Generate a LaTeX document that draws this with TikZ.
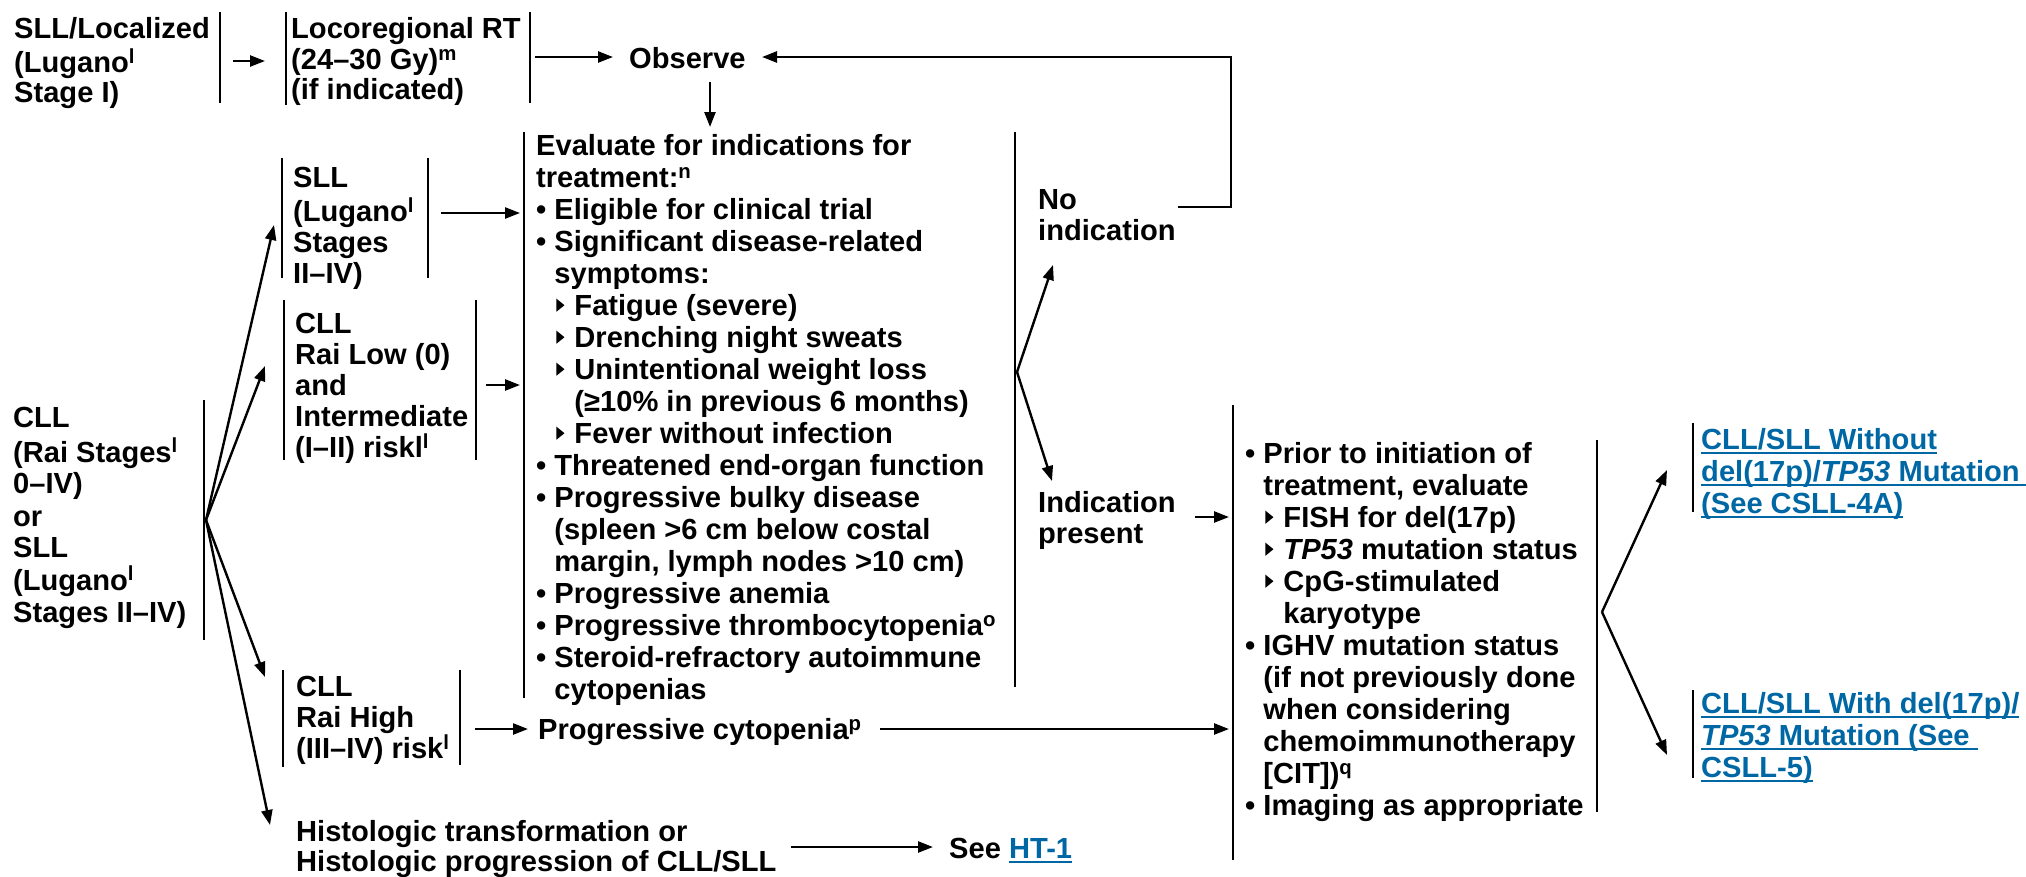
\documentclass[tikz,border=0pt]{standalone}
\usepackage{fontspec}
\setmainfont{Liberation Sans}
\usetikzlibrary{arrows.meta}
\definecolor{lnk}{HTML}{0067A5}
\newlength\ulwd
\newcommand\lk[1]{\settowidth\ulwd{#1}\rlap{\color{lnk}\rule[-4.5pt]{\ulwd}{2pt}}{\color{lnk}#1}}
\newcommand\tri{\hspace{2pt}\tikz[x=1pt,y=1pt,baseline=0pt]\fill (0,3.9) -- (0,16.9) -- (8,10.4) -- cycle;\hspace{10pt}}
\newcommand\bind{\phantom{•\ }}
\newcommand\sups[1]{\textsuperscript{#1}}
\begin{document}
\begin{tikzpicture}[x=1pt,y=-1pt,line width=2.4pt,
  txt/.style={anchor=north west,inner sep=0pt,align=left,font=\fontsize{29.1}{32}\selectfont\bfseries},
  p305/.style={font=\fontsize{29.1}{30.5}\selectfont\bfseries},
  p31/.style={font=\fontsize{29.1}{31}\selectfont\bfseries},
  p28/.style={font=\fontsize{29.1}{28}\selectfont\bfseries},
  arr/.style={-{Triangle[length=15pt,width=11pt]}},
  bar/.style={line width=2.4pt}]
\useasboundingbox (0,0) rectangle (2026,876);

% ---------- text nodes ----------
\node[txt,p305] (sllloc) at (13,16) {\strut SLL/Localized\\(Lugano\sups{l}\\Stage I)};
\node[txt,p305] (loco) at (290,16) {\strut Locoregional RT\\(24–30 Gy)\sups{m}\\(if indicated)};
\node[txt,p305] (observe) at (628,46) {\strut Observe};

\node[txt] (cll) at (12,404) {\strut CLL\\(Rai Stages\sups{l}\\0–IV)\\or\\SLL\\(Lugano\sups{l}\\Stages II–IV)};
\node[txt,p31] (sll) at (292,165) {\strut SLL\\(Lugano\sups{l}\\Stages\\II–IV)};
\node[txt,p31] (clllow) at (294,311) {\strut CLL\\Rai Low (0)\\and\\Intermediate\\(I–II) riskl\sups{l}};
\node[txt,p31] (cllhigh) at (295,674) {\strut CLL\\Rai High\\(III–IV) risk\sups{l}};
\node[txt,p28] (hist) at (295,819) {\strut Histologic transformation or\\Histologic progression of CLL/SLL};

\node[txt] (eval) at (536,133) {\strut Evaluate for indications for\\
treatment:\sups{n}\\
• Eligible for clinical trial\\
• Significant disease-related\\
\bind symptoms:\\
\bind\tri Fatigue (severe)\\
\bind\tri Drenching night sweats\\
\bind\tri Unintentional weight loss\\
\bind\hspace{20pt}(≥10\% in previous 6 months)\\
\bind\tri Fever without infection\\
• Threatened end-organ function\\
• Progressive bulky disease\\
\bind (spleen >6 cm below costal\\
\bind margin, lymph nodes >10 cm)\\
• Progressive anemia\\
• Progressive thrombocytopenia\sups{o}\\
• Steroid-refractory autoimmune\\
\bind cytopenias};

\node[txt] (progcyt) at (537,716) {\strut Progressive cytopenia\sups{p}};
\node[txt] (seeht) at (948,835) {\strut See \lk{HT-1}};

\node[txt,p31] (noind) at (1037,187) {\strut No\\indication};
\node[txt,p31] (indpres) at (1037,490) {\strut Indication\\present};

\node[txt] (prior) at (1245,441) {\strut • Prior to initiation of\\
\bind treatment, evaluate\\
\bind\tri FISH for del(17p)\\
\bind\tri\textit{TP53} mutation status\\
\bind\tri CpG-stimulated\\
\bind\hspace{20pt}karyotype\\
• IGHV mutation status\\
\bind (if not previously done\\
\bind when considering\\
\bind chemoimmunotherapy\\
\bind [CIT])\sups{q}\\
• Imaging as appropriate};

\node[txt] (without) at (1700,426) {\strut\lk{CLL/SLL Without}\\\lk{del(17p)/\textit{TP53} Mutation\ }\\\lk{(See CSLL-4A)}};
\node[txt] (with) at (1700,690) {\strut\lk{CLL/SLL With del(17p)/}\\\lk{\textit{TP53} Mutation (See\ }\\\lk{CSLL-5)}};

% ---------- bars ----------
\draw[bar] (220,12) -- (220,103);
\draw[bar] (286,12) -- (286,105);
\draw[bar] (530,12) -- (530,103);
\draw[bar] (282,158) -- (282,278);
\draw[bar] (428,158) -- (428,278);
\draw[bar] (284,300) -- (284,460);
\draw[bar] (476,300) -- (476,460);
\draw[bar] (204,400) -- (204,640);
\draw[bar] (283,670) -- (283,767);
\draw[bar] (460,670) -- (460,765);
\draw[bar] (524,132) -- (524,698);
\draw[bar] (1015,132) -- (1015,687);
\draw[bar] (1233,405) -- (1233,860);
\draw[bar] (1597,440) -- (1597,812);
\draw[bar] (1693,423) -- (1693,512);
\draw[bar] (1693,690) -- (1693,778);

% ---------- connector points ----------
\coordinate (a1s) at (233,61);  \coordinate (a1e) at (265,61);
\coordinate (a2s) at (535,57);  \coordinate (a2e) at (613,57);
\coordinate (a3s) at (710,82);  \coordinate (a3e) at (710,127);
\coordinate (rs) at (1178,207); \coordinate (rc) at (1231,207); \coordinate (rt) at (1231,57); \coordinate (re) at (762,57);
\coordinate (apex1) at (206,520);
\coordinate (t1) at (274,225); \coordinate (t2) at (265,366);
\coordinate (t3) at (265,677); \coordinate (t4) at (270,825);
\coordinate (b1s) at (441,213); \coordinate (b1e) at (520,213);
\coordinate (b2s) at (486,385); \coordinate (b2e) at (520,385);
\coordinate (b3s) at (475,729); \coordinate (b3e) at (528,729);
\coordinate (b4s) at (880,729); \coordinate (b4e) at (1229,729);
\coordinate (b5s) at (791,847); \coordinate (b5e) at (933,847);
\coordinate (apex2) at (1017,372);
\coordinate (u1) at (1053,265); \coordinate (u2) at (1052,481);
\coordinate (b6s) at (1195,517); \coordinate (b6e) at (1229,517);
\coordinate (apex3) at (1602,612);
\coordinate (v1) at (1667,470); \coordinate (v2) at (1667,755);

% ---------- connectors ----------
\draw[arr] (a1s) -- (a1e);
\draw[arr] (a2s) -- (a2e);
\draw[arr] (a3s) -- (a3e);
\draw[arr] (rs) -- (rc) -- (rt) -- (re);
\draw[arr] (apex1) -- (t1);
\draw[arr] (apex1) -- (t2);
\draw[arr] (apex1) -- (t3);
\draw[arr] (apex1) -- (t4);
\draw[arr] (b1s) -- (b1e);
\draw[arr] (b2s) -- (b2e);
\draw[arr] (b3s) -- (b3e);
\draw[arr] (b4s) -- (b4e);
\draw[arr] (b5s) -- (b5e);
\draw[arr] (apex2) -- (u1);
\draw[arr] (apex2) -- (u2);
\draw[arr] (b6s) -- (b6e);
\draw[arr] (apex3) -- (v1);
\draw[arr] (apex3) -- (v2);
\end{tikzpicture}
\end{document}
